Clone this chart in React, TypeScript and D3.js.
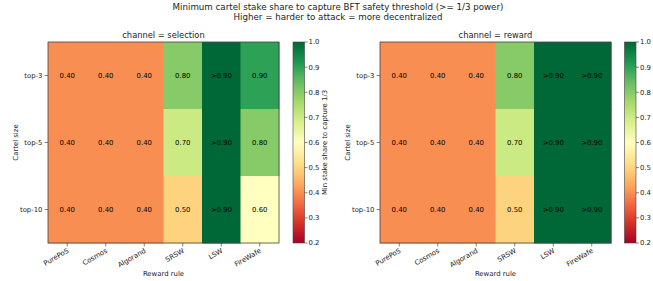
import React, { useEffect, useRef } from "react";
import * as d3 from "d3";

const rules = ["PurePoS", "Cosmos", "Algorand", "SRSW", "LSW", "FireWafe"];
const cartels = ["top-3", "top-5", "top-10"];
// 1.0 means the cartel never reaches 1/3 below 0.90 (shown as ">0.90")
const selectionValues = [
  [0.4, 0.4, 0.4, 0.8, 1.0, 0.9],
  [0.4, 0.4, 0.4, 0.7, 1.0, 0.8],
  [0.4, 0.4, 0.4, 0.5, 1.0, 0.6]
];
const rewardValues = [
  [0.4, 0.4, 0.4, 0.8, 1.0, 1.0],
  [0.4, 0.4, 0.4, 0.7, 1.0, 1.0],
  [0.4, 0.4, 0.4, 0.5, 1.0, 1.0]
];
const colorbarTicks = [0.2, 0.3, 0.4, 0.5, 0.6, 0.7, 0.8, 0.9, 1.0];

const W = 653;
const H = 281;
const FONT = "DejaVu Sans, sans-serif";

const rdylgn = d3.piecewise(d3.interpolateRgb, [
  "#a50026", "#d73027", "#f46d43", "#fdae61", "#fee08b", "#ffffbf",
  "#d9ef8b", "#a6d96a", "#66bd63", "#1a9850", "#006837"
]);
const norm = d3.scaleLinear().domain([0.2, 1.0]).range([0, 1]).clamp(true);
const color = v => rdylgn(norm(v));

function drawPanel(svg, opts) {
  const { x0, x1, y0, y1, title, values, cbX, cbLabel } = opts;
  const g = svg.append("g");

  const x = d3.scaleBand().domain(rules).range([x0, x1]);
  const y = d3.scaleBand().domain(cartels).range([y0, y1]);

  values.forEach((row, i) => {
    row.forEach((v, j) => {
      g.append("rect")
        .attr("x", x(rules[j]))
        .attr("y", y(cartels[i]))
        .attr("width", x.bandwidth() + 0.5)
        .attr("height", y.bandwidth() + 0.5)
        .attr("fill", color(v));
      g.append("text")
        .attr("x", x(rules[j]) + x.bandwidth() / 2)
        .attr("y", y(cartels[i]) + y.bandwidth() / 2)
        .attr("dy", "0.35em")
        .attr("text-anchor", "middle")
        .attr("font-size", 6.9)
        .attr("fill", "#000")
        .text(v > 0.9 ? ">0.90" : v.toFixed(2));
    });
  });

  g.append("rect")
    .attr("x", x0)
    .attr("y", y0)
    .attr("width", x1 - x0)
    .attr("height", y1 - y0)
    .attr("fill", "none")
    .attr("stroke", "#444")
    .attr("stroke-width", 0.8);

  // x ticks
  rules.forEach(r => {
    const cx = x(r) + x.bandwidth() / 2;
    g.append("line")
      .attr("x1", cx).attr("x2", cx)
      .attr("y1", y1).attr("y2", y1 + 3.5)
      .attr("stroke", "#333").attr("stroke-width", 0.6);
    g.append("text")
      .attr("transform", `translate(${cx + 2},${y1 + 9}) rotate(-30)`)
      .attr("text-anchor", "end")
      .attr("font-size", 6.9)
      .attr("fill", "#222")
      .text(r);
  });

  // y ticks
  cartels.forEach(c => {
    const cy = y(c) + y.bandwidth() / 2;
    g.append("line")
      .attr("x1", x0 - 3.5).attr("x2", x0)
      .attr("y1", cy).attr("y2", cy)
      .attr("stroke", "#333").attr("stroke-width", 0.6);
    g.append("text")
      .attr("x", x0 - 5.5)
      .attr("y", cy)
      .attr("dy", "0.35em")
      .attr("text-anchor", "end")
      .attr("font-size", 6.9)
      .attr("fill", "#222")
      .text(c);
  });

  g.append("text")
    .attr("x", (x0 + x1) / 2)
    .attr("y", y0 - 4)
    .attr("text-anchor", "middle")
    .attr("font-size", 8.3)
    .attr("fill", "#222")
    .text(title);

  g.append("text")
    .attr("x", (x0 + x1) / 2)
    .attr("y", 276)
    .attr("text-anchor", "middle")
    .attr("font-size", 6.9)
    .attr("fill", "#222")
    .text("Reward rule");

  g.append("text")
    .attr("transform", `translate(${x0 - 30},${(y0 + y1) / 2}) rotate(-90)`)
    .attr("text-anchor", "middle")
    .attr("font-size", 6.9)
    .attr("fill", "#222")
    .text("Cartel size");

  // colorbar
  const cbW = 11.5;
  const cy = d3.scaleLinear().domain([0.2, 1.0]).range([y1, y0]);
  const gradId = `grad-${cbX}`;
  const grad = svg.append("defs").append("linearGradient")
    .attr("id", gradId)
    .attr("x1", 0).attr("x2", 0).attr("y1", 1).attr("y2", 0);
  d3.range(0, 1.0001, 0.05).forEach(t => {
    grad.append("stop").attr("offset", t).attr("stop-color", rdylgn(t));
  });
  g.append("rect")
    .attr("x", cbX).attr("y", y0)
    .attr("width", cbW).attr("height", y1 - y0)
    .attr("fill", `url(#${gradId})`)
    .attr("stroke", "#444").attr("stroke-width", 0.6);
  colorbarTicks.forEach(t => {
    g.append("line")
      .attr("x1", cbX + cbW).attr("x2", cbX + cbW + 3)
      .attr("y1", cy(t)).attr("y2", cy(t))
      .attr("stroke", "#333").attr("stroke-width", 0.6);
    g.append("text")
      .attr("x", cbX + cbW + 4)
      .attr("y", cy(t))
      .attr("dy", "0.35em")
      .attr("font-size", 6.9)
      .attr("fill", "#222")
      .text(t.toFixed(1));
  });
  if (cbLabel) {
    g.append("text")
      .attr("transform", `translate(${cbX + cbW + 22},${(y0 + y1) / 2}) rotate(-90)`)
      .attr("text-anchor", "middle")
      .attr("font-size", 6.9)
      .attr("fill", "#222")
      .text(cbLabel);
  }
}

export default function App() {
  const ref = useRef(null);

  useEffect(() => {
    const svg = d3.select(ref.current);
    svg.selectAll("*").remove();
    svg.attr("font-family", FONT);

    svg.append("rect").attr("width", W).attr("height", H).attr("fill", "#fff");

    svg.append("text")
      .attr("x", 338).attr("y", 10)
      .attr("text-anchor", "middle")
      .attr("font-size", 8.7)
      .attr("fill", "#222")
      .text("Minimum cartel stake share to capture BFT safety threshold (>= 1/3 power)");
    svg.append("text")
      .attr("x", 338).attr("y", 19.5)
      .attr("text-anchor", "middle")
      .attr("font-size", 8.7)
      .attr("fill", "#222")
      .text("Higher = harder to attack = more decentralized");

    drawPanel(svg, {
      x0: 48, x1: 279, y0: 42, y1: 243,
      title: "channel = selection", values: selectionValues, cbX: 293,
      cbLabel: "Min stake share to capture 1/3"
    });
    // the right colorbar's label lies outside the picture in the reference
    drawPanel(svg, {
      x0: 380, x1: 611, y0: 42, y1: 243,
      title: "channel = reward", values: rewardValues, cbX: 624.5,
      cbLabel: null
    });
  }, []);

  return (
    <svg
      ref={ref}
      width={W}
      height={H}
      style={{ position: "fixed", left: 0, top: 0, display: "block" }}
    />
  );
}
